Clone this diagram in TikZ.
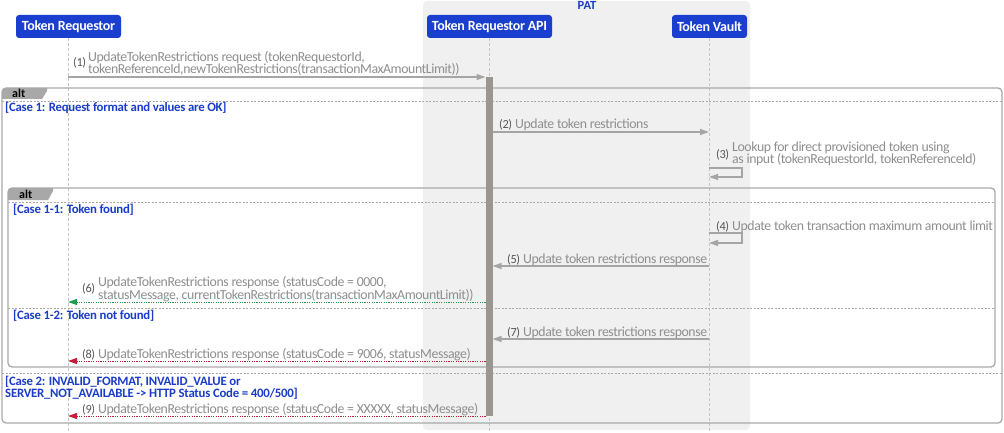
\documentclass[tikz,border=0pt]{standalone}
\usepackage{fontspec}
\setmainfont{Carlito}
\newfontfamily\msgfont{Carlito}[LetterSpace=-3]
\newfontfamily\guardfont{Carlito}[LetterSpace=-2]
\usetikzlibrary{arrows.meta}
\definecolor{pblue}{HTML}{1A3FCF}
\definecolor{gblue}{HTML}{1A3CC8}
\definecolor{msggray}{HTML}{8E8E8E}
\definecolor{numgray}{HTML}{555555}
\definecolor{linegray}{HTML}{A5A5A5}
\definecolor{framegray}{HTML}{A9A9A9}
\definecolor{lifegray}{HTML}{C4C4C4}
\definecolor{patbg}{HTML}{F0F0F0}
\definecolor{actgray}{HTML}{9B9690}
\definecolor{okgreen}{HTML}{1E9B4F}
\definecolor{errred}{HTML}{C41E3A}
\definecolor{tabgray}{HTML}{A8A8A8}
\begin{document}
\begin{tikzpicture}[x=1pt,y=-1pt,
  participant/.style={fill=pblue, text=white, rounded corners=3pt, inner sep=0pt,
    minimum height=23pt, font=\guardfont\fontsize{14}{14}\selectfont\bfseries},
  msgtext/.style={anchor=base west, inner sep=0pt, text=msggray, font=\msgfont\fontsize{13.8}{14}\selectfont},
  numtext/.style={anchor=base west, inner sep=0pt, text=numgray, font=\msgfont\fontsize{12.3}{13}\selectfont},
  guard/.style={anchor=base west, inner sep=0pt, text=gblue, font=\guardfont\fontsize{12.8}{13}\selectfont\bfseries},
  alttext/.style={anchor=base west, inner sep=0pt, text=black, font=\fontsize{12}{12}\selectfont\bfseries},
  lifeline/.style={draw=lifegray, line width=0.8pt, dash pattern=on 3pt off 2pt},
  tip/.style={-{Triangle[length=9pt,width=6pt]}},
  msgline/.style={draw=linegray, line width=1.2pt, tip},
  okline/.style={draw=okgreen, line width=1pt, dash pattern=on 1.2pt off 1.2pt, tip},
  errline/.style={draw=errred, line width=1pt, dash pattern=on 1.2pt off 1.2pt, tip},
  altframe/.style={draw=framegray, line width=1.3pt, rounded corners=4pt},
  sepline/.style={draw=framegray, line width=0.5pt, dash pattern=on 2pt off 1.5pt},
  alttab/.style={fill=tabgray},
  actbar/.style={fill=actgray}
]
\useasboundingbox (0,0) rectangle (1004,433);

% PAT group background
\fill[patbg, rounded corners=4pt] (423,1) rectangle (750,430);
\node[inner sep=0pt, anchor=base, text=gblue, font=\fontsize{12.5}{13}\selectfont\bfseries] (pat) at (587,10) {PAT};

% participants
\node[participant, minimum width=105pt] (tr) at (68.5,26.5) {Token Requestor};
\node[participant, minimum width=125pt] (api) at (489.5,26.5) {Token Requestor API};
\node[participant, minimum width=75pt] (tv) at (709.5,26.5) {Token Vault};

% lifeline ends
\coordinate (trend) at (68,433);
\coordinate (apiend) at (489,433);
\coordinate (tvend) at (709,433);
\draw[lifeline] (tr.south -| trend) -- (trend);
\draw[lifeline] (api.south -| apiend) -- (apiend);
\draw[lifeline] (tv.south -| tvend) -- (tvend);

% outer alt frame
\fill[alttab] (2,99) [rounded corners=4pt]-- (2,88) [sharp corners]-- (47,88) -- (47,91) -- (42,99) -- cycle;
\draw[altframe] (2,88) rectangle (1002,423);
\node[alttext] (alt1) at (12,98) {alt};
\coordinate (s1a) at (2,101);   \coordinate (s1b) at (1002,101);
\coordinate (s2a) at (2,373);   \coordinate (s2b) at (1002,373);
\draw[sepline] (s1a) -- (s1b);
\draw[sepline] (s2a) -- (s2b);
\node[guard] (g1) at (5,111.5) {[Case 1: Request format and values are OK]};
\node[guard] (g2a) at (5,385) {[Case 2: INVALID\_FORMAT, INVALID\_VALUE or};
\node[guard] (g2b) at (5,397.5) {SERVER\_NOT\_AVAILABLE -> HTTP Status Code = 400/500]};

% inner alt frame
\fill[alttab] (8,200) [rounded corners=4pt]-- (8,188) [sharp corners]-- (53,188) -- (53,191) -- (48,200) -- cycle;
\draw[altframe] (8,188) rectangle (995,367);
\node[alttext] (alt2) at (19,198.5) {alt};
\coordinate (s3a) at (8,202);   \coordinate (s3b) at (995,202);
\coordinate (s4a) at (8,308);   \coordinate (s4b) at (995,308);
\draw[sepline] (s3a) -- (s3b);
\draw[sepline] (s4a) -- (s4b);
\node[guard] (g11) at (13,213.5) {[Case 1-1: Token found]};
\node[guard] (g12) at (13,319.5) {[Case 1-2: Token not found]};

% activation bar
\node[actbar, inner sep=0pt, minimum width=7pt, minimum height=339pt, anchor=north] (act) at (489,77) {};

% message endpoints
\coordinate (m1a) at (68,77);    \coordinate (m1b) at (485.5,77);
\coordinate (m2a) at (492.5,132); \coordinate (m2b) at (709,132);
\coordinate (m3a) at (709,168);  \coordinate (m3c) at (742,168); \coordinate (m3d) at (742,177); \coordinate (m3b) at (709,177);
\coordinate (m4a) at (709,233);  \coordinate (m4c) at (742,233); \coordinate (m4d) at (742,243); \coordinate (m4b) at (709,243);
\coordinate (m5a) at (709,266);  \coordinate (m5b) at (492.5,266);
\coordinate (m6a) at (485.5,302); \coordinate (m6b) at (68,302);
\coordinate (m7a) at (709,339);  \coordinate (m7b) at (492.5,339);
\coordinate (m8a) at (485.5,361); \coordinate (m8b) at (68,361);
\coordinate (m9a) at (485.5,416); \coordinate (m9b) at (68,416);

% messages
\draw[msgline] (m1a) -- (m1b);
\draw[msgline] (m2a) -- (m2b);
\draw[msgline] (m3a) -- (m3c) -- (m3d) -- (m3b);
\draw[msgline] (m4a) -- (m4c) -- (m4d) -- (m4b);
\draw[msgline] (m5a) -- (m5b);
\draw[okline] (m6a) -- (m6b);
\draw[msgline] (m7a) -- (m7b);
\draw[errline] (m8a) -- (m8b);
\draw[errline] (m9a) -- (m9b);

% labels
\node[numtext] (n1) at (73,67) {(1)};
\node[msgtext] (t1a) at (88,61.5) {UpdateTokenRestrictions request (tokenRequestorId,};
\node[msgtext] (t1b) at (88,74) {tokenReferenceId,newTokenRestrictions(transactionMaxAmountLimit))};

\node[numtext] (n2) at (499,129) {(2)};
\node[msgtext] (t2) at (515,129) {Update token restrictions};

\node[numtext] (n3) at (716,159) {(3)};
\node[msgtext] (t3a) at (732,151.5) {Lookup for direct provisioned token using};
\node[msgtext] (t3b) at (732,164) {as input (tokenRequestorId, tokenReferenceId)};

\node[numtext] (n4) at (716,230) {(4)};
\node[msgtext] (t4) at (732,230) {Update token transaction maximum amount limit};

\node[numtext] (n5) at (507,263) {(5)};
\node[msgtext] (t5) at (523,263) {Update token restrictions response};

\node[numtext] (n6) at (82,292.5) {(6)};
\node[msgtext] (t6a) at (98,286.5) {UpdateTokenRestrictions response (statusCode = 0000,};
\node[msgtext] (t6b) at (98,299) {statusMessage, currentTokenRestrictions(transactionMaxAmountLimit))};

\node[numtext] (n7) at (507,336) {(7)};
\node[msgtext] (t7) at (523,336) {Update token restrictions response};

\node[numtext] (n8) at (82,358) {(8)};
\node[msgtext] (t8) at (98,358) {UpdateTokenRestrictions response (statusCode = 9006, statusMessage)};

\node[numtext] (n9) at (82,413) {(9)};
\node[msgtext] (t9) at (98,413) {UpdateTokenRestrictions response (statusCode = XXXXX, statusMessage)};
\end{tikzpicture}
\end{document}
